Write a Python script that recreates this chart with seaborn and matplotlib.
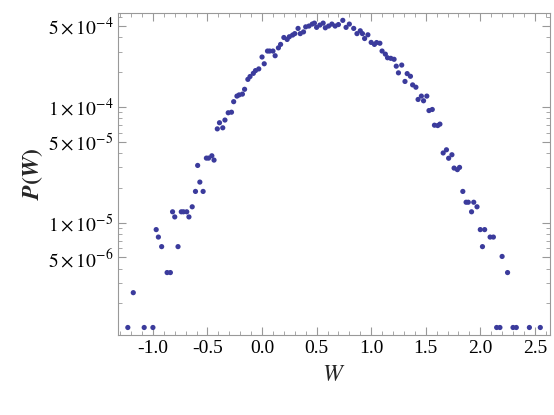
import matplotlib
matplotlib.use("Agg")
import matplotlib.pyplot as plt
import seaborn as sns
import pandas as pd
from matplotlib.ticker import LogLocator, MultipleLocator, FixedLocator, NullFormatter

W = [-1.23, -1.18, -1.08, -1.00, -0.97, -0.95, -0.92, -0.87, -0.84, -0.82, -0.80, -0.77,
     -0.74, -0.72, -0.69, -0.67, -0.64, -0.61, -0.59, -0.57, -0.54, -0.51, -0.49, -0.46,
     -0.44, -0.41, -0.39, -0.36, -0.34, -0.31, -0.28, -0.26, -0.23, -0.21, -0.18, -0.16,
     -0.13, -0.11, -0.08, -0.06, -0.03, 0.00, 0.02, 0.05, 0.07, 0.10, 0.12, 0.15, 0.17,
     0.20, 0.23, 0.25, 0.28, 0.30, 0.33, 0.35, 0.38, 0.40, 0.43, 0.46, 0.48, 0.50, 0.53,
     0.56, 0.58, 0.61, 0.64, 0.67, 0.70, 0.74, 0.77, 0.80, 0.84, 0.87, 0.90, 0.92, 0.94,
     0.97, 1.00, 1.03, 1.05, 1.08, 1.10, 1.13, 1.15, 1.18, 1.21, 1.23, 1.25, 1.28, 1.31,
     1.33, 1.36, 1.38, 1.41, 1.43, 1.46, 1.48, 1.51, 1.53, 1.56, 1.58, 1.61, 1.63, 1.66,
     1.69, 1.71, 1.74, 1.76, 1.79, 1.81, 1.84, 1.87, 1.89, 1.92, 1.94, 1.97, 2.00, 2.02,
     2.04, 2.09, 2.12, 2.20, 2.25, 2.15, 2.18, 2.30, 2.33, 2.45, 2.55]
P = [1.24e-6, 2.48e-6, 1.24e-6, 1.24e-6, 8.7e-6, 7.5e-6, 6.2e-6, 3.7e-6, 3.7e-6, 1.24e-5,
     1.12e-5, 6.2e-6, 1.24e-5, 1.24e-5, 1.24e-5, 1.12e-5, 1.37e-5, 1.86e-5, 3.12e-5, 2.24e-5,
     1.86e-5, 3.61e-5, 3.61e-5, 3.78e-5, 3.47e-5, 6.46e-5, 7.3e-5, 6.6e-5, 7.7e-5, 8.9e-5,
     9.0e-5, 1.11e-4, 1.24e-4, 1.27e-4, 1.29e-4, 1.42e-4, 1.73e-4, 1.83e-4, 1.95e-4, 2.06e-4,
     2.13e-4, 2.70e-4, 2.36e-4, 3.04e-4, 3.04e-4, 3.04e-4, 2.77e-4, 3.24e-4, 3.47e-4, 3.98e-4,
     3.83e-4, 4.04e-4, 4.18e-4, 4.3e-4, 4.77e-4, 4.3e-4, 4.45e-4, 4.92e-4, 5.0e-4, 5.2e-4,
     5.3e-4, 4.87e-4, 5.1e-4, 5.3e-4, 4.83e-4, 5.0e-4, 5.2e-4, 5.0e-4, 5.15e-4, 5.6e-4,
     4.87e-4, 5.2e-4, 4.77e-4, 4.3e-4, 4.55e-4, 4.3e-4, 3.9e-4, 4.2e-4, 3.61e-4, 3.47e-4,
     3.6e-4, 3.55e-4, 3.04e-4, 2.86e-4, 2.66e-4, 2.63e-4, 2.58e-4, 2.25e-4, 1.97e-4, 2.30e-4,
     1.66e-4, 1.94e-4, 1.84e-4, 1.55e-4, 1.48e-4, 1.16e-4, 1.24e-4, 1.13e-4, 1.24e-4, 9.3e-5,
     9.5e-5, 6.95e-5, 6.9e-5, 7.1e-5, 4.0e-5, 4.26e-5, 3.6e-5, 3.86e-5, 2.96e-5, 2.87e-5,
     3.0e-5, 1.86e-5, 1.5e-5, 1.5e-5, 1.24e-5, 1.5e-5, 1.37e-5, 8.7e-6, 6.2e-6, 8.7e-6,
     7.5e-6, 7.5e-6, 5.1e-6, 3.7e-6, 1.24e-6, 1.24e-6, 1.24e-6, 1.24e-6, 1.24e-6, 1.24e-6]

ytick_vals = [5e-4, 1e-4, 5e-5, 1e-5, 5e-6]
ytick_labels = [r"$5\times10^{-4}$", r"$1\times10^{-4}$", r"$5\times10^{-5}$",
                r"$1\times10^{-5}$", r"$5\times10^{-6}$"]
xtick_vals = [-1.0, -0.5, 0.0, 0.5, 1.0, 1.5, 2.0, 2.5]

df = pd.DataFrame({"W": W, "P": P})

sns.set_style("ticks")
plt.rcParams["font.family"] = ["Liberation Serif", "DejaVu Serif"]
plt.rcParams["mathtext.fontset"] = "stix"

fig = plt.figure(figsize=(5.54, 4.15), dpi=100)
ax = fig.add_axes([0.213, 0.193, 0.780, 0.776])
sns.scatterplot(data=df, x="W", y="P", ax=ax, color="#3b3b9c", s=14,
                edgecolor="none", linewidth=0)
ax.set_yscale("log")
ax.set_xlim(-1.32, 2.64)
ax.set_ylim(1.07e-6, 6.5e-4)
ax.yaxis.set_major_locator(FixedLocator(ytick_vals))
ax.set_yticklabels(ytick_labels)
ax.yaxis.set_minor_locator(LogLocator(base=10, subs=range(1, 10), numticks=20))
ax.yaxis.set_minor_formatter(NullFormatter())
ax.set_xticks(xtick_vals)
ax.set_xticklabels([f"{v:.1f}" for v in xtick_vals])
ax.xaxis.set_minor_locator(MultipleLocator(0.1))
for s in ax.spines.values():
    s.set_color("#999999")
    s.set_linewidth(0.8)
ax.tick_params(which="both", direction="in", top=True, right=True, colors="#999999",
               labelcolor="black", labelsize=14)
ax.tick_params(which="major", length=6)
ax.tick_params(which="minor", length=3)
ax.set_xlabel("$W$", fontsize=17, labelpad=6)
ax.set_ylabel(r"$\boldsymbol{P(W)}$", fontsize=17, labelpad=2)
fig.savefig("out.png", dpi=100)
